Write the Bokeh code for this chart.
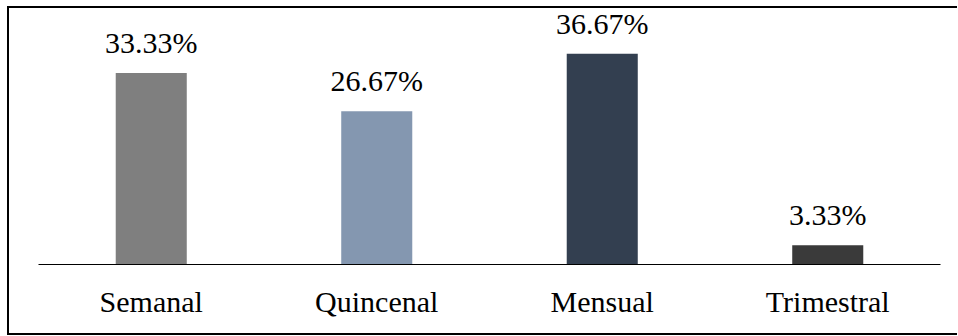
from bokeh.plotting import figure
from bokeh.models import ColumnDataSource, Range1d, LabelSet
from bokeh.core.properties import value
from bokeh.embed import file_html
from bokeh.resources import INLINE

categories = ["Semanal", "Quincenal", "Mensual", "Trimestral"]
percentages = [33.33, 26.67, 36.67, 3.33]
labels = ["33.33%", "26.67%", "36.67%", "3.33%"]
colors = ["#7f7f7f", "#8497b0", "#333f50", "#3a3a3a"]

source = ColumnDataSource(dict(cat=categories, val=percentages, lab=labels, col=colors))

p = figure(x_range=categories, y_range=Range1d(0, 44.56),
           frame_width=902, frame_height=256, output_backend="svg", toolbar_location=None,
           min_border_left=29, min_border_right=17, min_border_top=0, min_border_bottom=69,
           margin=(6, 0, 0, 7))
p.styles = {"border-left": "2px solid black", "border-top": "2px solid black",
            "border-bottom": "2px solid black", "box-sizing": "content-box"}

p.vbar(x="cat", top="val", width=0.315, color="col", source=source, line_color=None)

labs = LabelSet(x="cat", y="val", text="lab", source=source, text_align="center",
                text_baseline="alphabetic", y_offset=20,
                text_font=value("Times New Roman"),
                text_font_size=value("30px"), text_color=value("black"))
p.add_layout(labs)

p.yaxis.visible = False
p.grid.visible = False
p.outline_line_color = None
p.xaxis.axis_line_color = "black"
p.xaxis.axis_line_width = 1
p.xaxis.major_tick_line_color = None
p.xaxis.minor_tick_line_color = None
p.xaxis.major_label_text_font = "Liberation Serif"
p.xaxis.major_label_text_font_size = "30px"
p.xaxis.major_label_text_color = "black"
p.xaxis.major_label_standoff = 14
p.x_range.range_padding = 0

open("out.html", "w").write(file_html(p, INLINE))
